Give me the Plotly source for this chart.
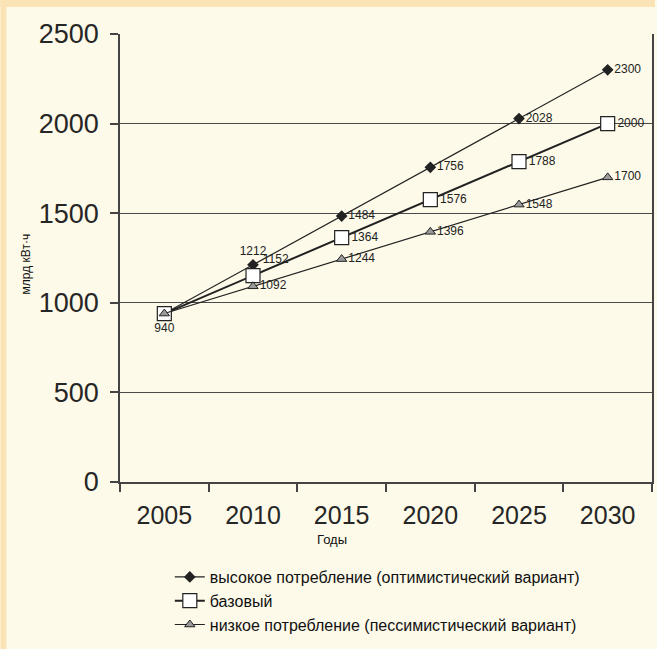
import plotly.graph_objects as go

years = ["2005", "2010", "2015", "2020", "2025", "2030"]
high = [940, 1212, 1484, 1756, 2028, 2300]
base = [940, 1152, 1364, 1576, 1788, 2000]
low = [940, 1092, 1244, 1396, 1548, 1700]

name_high = "высокое потребление (оптимистический вариант)"
name_base = "базовый"
name_low = "низкое потребление (пессимистический вариант)"

W, H = 657, 649
ML, MR, MT, MB = 120, 3, 34, 167
pw, ph = W - ML - MR, H - MT - MB


def px_x(x):
    return (x - ML) / pw


def px_y(y):
    return (H - MB - y) / ph


ink = "#222222"
lab_font = dict(size=12, color=ink, family="Liberation Sans, Arial")

high_text = [""] + [str(v) for v in high[1:]]
high_pos = ["middle right", "top center"] + ["middle right"] * 4
base_text = [str(v) for v in base]
base_pos = ["bottom center", "top right"] + ["middle right"] * 4
low_text = [""] + [str(v) for v in low[1:]]

fig = go.Figure()
fig.add_trace(go.Scatter(
    x=years, y=high, name=name_high, mode="lines+markers+text",
    line=dict(color=ink, width=1.2),
    marker=dict(symbol="diamond", size=9, color=ink),
    text=high_text, textposition=high_pos, textfont=lab_font,
))
fig.add_trace(go.Scatter(
    x=years, y=base, name=name_base, mode="lines+markers+text",
    line=dict(color=ink, width=2),
    marker=dict(symbol="square", size=14, color="white", line=dict(color=ink, width=1.2)),
    text=base_text, textposition=base_pos, textfont=lab_font,
))
fig.add_trace(go.Scatter(
    x=years, y=low, name=name_low, mode="lines+markers+text",
    line=dict(color=ink, width=1.2),
    marker=dict(symbol="triangle-up", size=9, color="#9a9a9a", line=dict(color=ink, width=1)),
    text=low_text, textposition="middle right", textfont=lab_font,
))

fig.update_layout(
    width=W, height=H,
    margin=dict(l=ML, r=MR, t=MT, b=MB),
    paper_bgcolor="#FDFAE9",
    plot_bgcolor="rgba(0,0,0,0)",
    font=dict(family="Liberation Sans, Arial", color=ink),
    showlegend=True,
    legend=dict(
        x=px_x(170), y=px_y(560), xanchor="left", yanchor="top",
        bgcolor="rgba(0,0,0,0)", font=dict(size=16, color="#111111"),
        tracegroupgap=0,
    ),
    xaxis=dict(
        type="category", range=[-0.5, 5.5], tickson="boundaries",
        ticks="outside", ticklen=8, tickcolor="#444", tickwidth=1.5,
        showgrid=False, showline=True, linecolor="#444", linewidth=1.5,
        tickfont=dict(size=25, color="#262626"), zeroline=False,
        ticklabelstandoff=10,
    ),
    yaxis=dict(
        range=[0, 2500], tickvals=[0, 500, 1000, 1500, 2000, 2500],
        ticks="outside", ticklen=8, tickcolor="#444", tickwidth=1.5,
        showgrid=True, gridcolor="#4a4a4a", gridwidth=1.2,
        showline=True, linecolor="#444", linewidth=1.5, mirror=True,
        tickfont=dict(size=27, color="#262626"), zeroline=False,
        ticklabelstandoff=6,
    ),
    shapes=[
        dict(type="rect", xref="paper", yref="paper", layer="below",
             x0=px_x(0), x1=px_x(W), y0=px_y(0), y1=px_y(7),
             fillcolor="#FAE3B5", line=dict(width=0)),
        dict(type="rect", xref="paper", yref="paper", layer="below",
             x0=px_x(0), x1=px_x(6), y0=px_y(0), y1=px_y(H),
             fillcolor="#FAE3B5", line=dict(width=0)),
    ],
    annotations=[
        dict(text="млрд кВт·ч", textangle=-90, xref="paper", yref="paper",
             x=px_x(17), y=px_y(264), showarrow=False,
             font=dict(size=12, color="#111")),
        dict(text="Годы", xref="paper", yref="paper",
             x=px_x(333), y=px_y(549), showarrow=False,
             font=dict(size=13, color="#111")),
    ],
)

fig.write_html("out.html", config={"displayModeBar": False},
               post_script="document.body.style.margin='0px';")
